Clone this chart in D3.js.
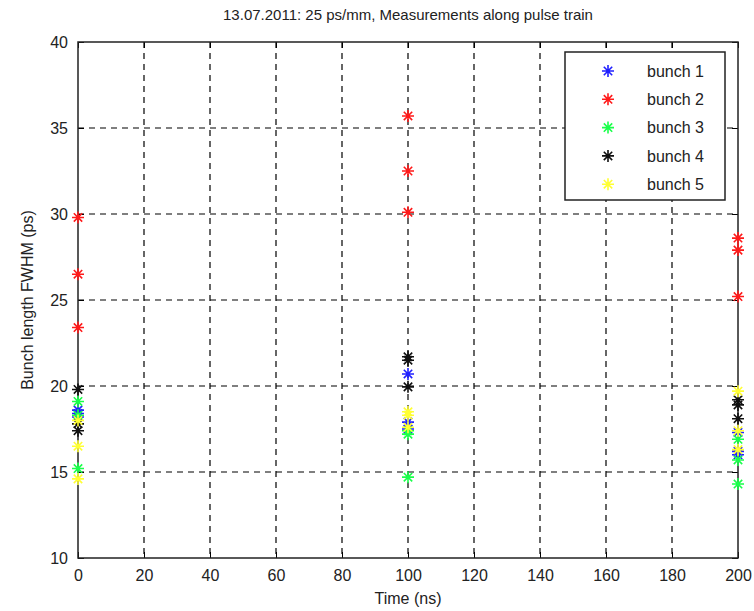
<!DOCTYPE html>
<html>
<head>
<meta charset="utf-8">
<script src="https://cdn.jsdelivr.net/npm/d3@7"></script>
<style>
  body { margin: 0; background: #fff; }
  text { font-family: "Liberation Sans", Arial, sans-serif; fill: #222; }
</style>
</head>
<body>
<div id="chart"></div>
<script>
// measurement times (ns)
const times = [0, 100, 200];

// bunch length FWHM (ps), three shots per time
const bunch1 = [[18.6, 18.4, 18.2], [20.7, 17.9, 17.5], [17.3, 16.2, 16.0]];
const bunch2 = [[29.8, 26.5, 23.4], [35.7, 32.5, 30.1], [28.6, 27.9, 25.2]];
const bunch3 = [[19.1, 18.3, 15.2], [17.4, 17.2, 14.7], [16.9, 15.7, 14.3]];
const bunch4 = [[19.8, 17.8, 17.4], [21.7, 21.5, 19.95], [19.2, 18.9, 18.1]];
const bunch5 = [[18.0, 16.5, 14.6], [18.5, 18.3, 17.6], [19.7, 17.4, 16.3]];

const seriesNames = ["bunch 1", "bunch 2", "bunch 3", "bunch 4", "bunch 5"];
const seriesValues = [bunch1, bunch2, bunch3, bunch4, bunch5];
const seriesColors = ["#2020ff", "#ff1a1a", "#1aff4a", "#111111", "#ffff33"];

const xTicks = d3.range(0, 201, 20);
const yTicks = [10, 15, 20, 25, 30, 35, 40];

const W = 754, H = 611;
const margin = { top: 42, right: 16, bottom: 53, left: 78 };
const width = W - margin.left - margin.right;
const height = H - margin.top - margin.bottom;

const svg = d3.select("#chart").append("svg")
    .attr("width", W)
    .attr("height", H);

const g = svg.append("g")
    .attr("transform", `translate(${margin.left},${margin.top})`);

const x = d3.scaleLinear().domain([0, 200]).range([0, width]);
const y = d3.scaleLinear().domain([10, 40]).range([height, 0]);

// grid
g.append("g").selectAll("line")
    .data(xTicks.slice(1, -1))
    .join("line")
    .attr("x1", d => x(d)).attr("x2", d => x(d))
    .attr("y1", 0).attr("y2", height)
    .attr("stroke", "#000").attr("stroke-width", 1.2)
    .attr("stroke-dasharray", "6,5");

g.append("g").selectAll("line")
    .data(yTicks.slice(1, -1))
    .join("line")
    .attr("y1", d => y(d)).attr("y2", d => y(d))
    .attr("x1", 0).attr("x2", width)
    .attr("stroke", "#000").attr("stroke-width", 1.2)
    .attr("stroke-dasharray", "6,5");

// axes with inward ticks
const xAxis = g.append("g")
    .attr("transform", `translate(0,${height})`)
    .call(d3.axisBottom(x).tickValues(xTicks).tickSizeInner(-6).tickSizeOuter(0).tickPadding(12));
const yAxis = g.append("g")
    .call(d3.axisLeft(y).tickValues(yTicks).tickSizeInner(-6).tickSizeOuter(0).tickPadding(10));
g.append("g")
    .call(d3.axisTop(x).tickValues(xTicks).tickSizeInner(-6).tickSizeOuter(0).tickFormat(""));
g.append("g")
    .attr("transform", `translate(${width},0)`)
    .call(d3.axisRight(y).tickValues(yTicks).tickSizeInner(-6).tickSizeOuter(0).tickFormat(""));

[xAxis, yAxis].forEach(a => a.selectAll("text")
    .style("font-size", "16px")
    .style("font-family", "'Liberation Sans', Arial, sans-serif")
    .attr("fill", "#222"));
g.selectAll(".domain").remove();
g.selectAll(".tick line").attr("stroke", "#000");

// frame
g.append("rect")
    .attr("width", width).attr("height", height)
    .attr("fill", "none").attr("stroke", "#222").attr("stroke-width", 1.5);

// asterisk marker
const star = (r) => {
    const d = r * 0.7;
    return `M${-r},0L${r},0M0,${-r}L0,${r}M${-d},${-d}L${d},${d}M${-d},${d}L${d},${-d}`;
};

seriesValues.forEach((vals, i) => {
    const pts = [];
    vals.forEach((shots, j) => shots.forEach(v => pts.push({ t: times[j], v: v })));
    g.append("g").selectAll("path")
        .data(pts)
        .join("path")
        .attr("d", star(6))
        .attr("transform", d => `translate(${x(d.t)},${y(d.v)})`)
        .attr("stroke", seriesColors[i])
        .attr("stroke-width", 1.6)
        .attr("fill", "none");
});

// legend
const legend = g.append("g").attr("transform", `translate(${487},${10})`);
legend.append("rect")
    .attr("width", 160).attr("height", 148)
    .attr("fill", "#fff").attr("stroke", "#222").attr("stroke-width", 1.5);
seriesNames.forEach((name, i) => {
    const row = legend.append("g").attr("transform", `translate(0,${19 + i * 28.3})`);
    row.append("path")
        .attr("d", star(6))
        .attr("transform", "translate(43,0)")
        .attr("stroke", seriesColors[i]).attr("stroke-width", 1.6).attr("fill", "none");
    row.append("text")
        .attr("x", 82).attr("dy", "0.35em")
        .style("font-size", "16px")
        .text(name);
});

// title and axis labels
svg.append("text")
    .attr("x", margin.left + width / 2).attr("y", 20)
    .attr("text-anchor", "middle")
    .style("font-size", "15px")
    .text("13.07.2011: 25 ps/mm, Measurements along pulse train");

svg.append("text")
    .attr("x", margin.left + width / 2).attr("y", 604)
    .attr("text-anchor", "middle")
    .style("font-size", "16px")
    .text("Time (ns)");

svg.append("text")
    .attr("transform", `translate(33,${margin.top + height / 2}) rotate(-90)`)
    .attr("text-anchor", "middle")
    .style("font-size", "16px")
    .text("Bunch length FWHM (ps)");
</script>
</body>
</html>
